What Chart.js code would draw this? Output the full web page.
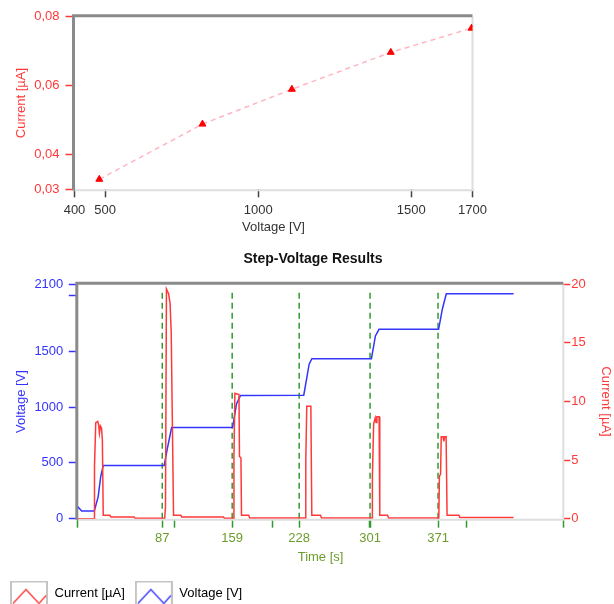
<!DOCTYPE html>
<html>
<head>
<meta charset="utf-8">
<script src="https://cdn.jsdelivr.net/npm/chart.js@4.4.1/dist/chart.umd.min.js"></script>
<style>
  html, body { margin: 0; padding: 0; background: #fff; overflow: hidden; }
  #top-box { position: absolute; left: 0; top: 0; width: 614px; height: 240px; }
  #bottom-box { position: absolute; left: 0; top: 240px; width: 614px; height: 364px; overflow: hidden; }
</style>
</head>
<body>
<div id="top-box"><canvas id="chart-iv" width="614" height="240"></canvas></div>
<div id="bottom-box"><canvas id="chart-steps" width="626" height="370"></canvas></div>
<script>
// I-V curve, one point per voltage step
const ivVoltage = [481, 818, 1110, 1433, 1697];
const ivCurrent = [0.0329, 0.0489, 0.0590, 0.0697, 0.0767];
const ivXTicks = [400, 500, 1000, 1500, 1700];
const ivYTicks = [0.03, 0.04, 0.06, 0.08];

// step voltage record
const voltageTime = [0, 4, 17, 21, 23.6, 26.2, 89, 92, 96.6, 159.4, 163.5, 167.6, 232.7, 236.1, 238.2, 241, 302.4, 306.5, 310.2, 371.6, 375.4, 379.5, 448.8];
const voltageValue = [108, 68, 70, 198, 378, 477, 477, 618, 816, 818, 1031, 1104, 1106, 1276, 1382, 1433, 1433, 1637, 1697, 1697, 1877, 2015, 2015];

const currentTime = [0, 17, 17.2, 18.5, 20.5, 21.5, 22.3, 23.3, 24.5, 25.3, 26.2, 33, 34, 58, 59,
  89.5, 90.3, 91.3, 93.5, 95, 96.2, 97.3, 98.6, 106, 107, 150, 151,
  160.2, 160.8, 161.8, 166, 166.5, 168, 168.6, 176, 177,
  234.2, 234.8, 235.8, 240, 241, 250, 251,
  303, 303.4, 304.7, 306.3, 307.2, 308, 310.3, 311, 319, 320,
  371.8, 372.4, 373.6, 374.3, 376.2, 377, 377.8, 379.3, 380.3, 392.5, 393.5, 448.8];
const currentValue = [0, 0, 4.5, 8.2, 8.3, 8.0, 7.3, 7.9, 7.7, 6.7, 0.3, 0.3, 0.15, 0.15, 0.03,
  0.03, 1.0, 19.6, 19.2, 18.4, 16.0, 8.7, 0.3, 0.3, 0.15, 0.15, 0.03,
  0.03, 5.2, 10.7, 10.6, 5.3, 5.2, 0.3, 0.3, 0.05,
  0.05, 4.9, 9.6, 9.6, 0.3, 0.3, 0.05,
  0.05, 3.6, 8.1, 8.6, 8.2, 8.7, 8.7, 0.3, 0.3, 0.05,
  0.05, 3.6, 3.8, 7.0, 7.0, 6.6, 7.0, 7.0, 0.3, 0.3, 0.1, 0.1];

const stepTimes = [87, 159, 228, 301, 371];
const timeTicks = [0, 87, 100, 159, 200, 228, 300, 301, 371, 400, 500];
const voltageTicks = [0, 500, 1000, 1500, 2000, 2100];
const currentTicks = [0, 5, 10, 15, 20];

const RED = '#ff3838';
const BLUE = '#3434ff';
const GREEN = '#6c9c2c';
const DASH_GREEN = '#2f9a2f';

Chart.defaults.font.family = '"Liberation Sans", Arial, sans-serif';
Chart.defaults.font.size = 13;
Chart.defaults.animation = false;

// plot frame: dark top/left, light bottom/right
const frame = {
  id: 'frame',
  beforeDatasetsDraw(chart) {
    const a = chart.chartArea;
    const ctx = chart.ctx;
    ctx.save();
    ctx.lineWidth = 2;
    ctx.strokeStyle = '#dedede';
    ctx.beginPath();
    ctx.moveTo(a.left, a.bottom + 1);
    ctx.lineTo(a.right, a.bottom + 1);
    ctx.lineTo(a.right, a.top);
    ctx.stroke();
    ctx.lineWidth = 3;
    ctx.strokeStyle = '#8a8a8a';
    ctx.beginPath();
    ctx.moveTo(a.left - 1, a.bottom + 1);
    ctx.lineTo(a.left - 1, a.top - 1);
    ctx.lineTo(a.right, a.top - 1);
    ctx.stroke();
    ctx.restore();
  }
};

function fixTicks(list) {
  return function (scale) {
    scale.ticks = list.map(v => ({ value: v }));
  };
}

function legendIcon(color) {
  const c = document.createElement('canvas');
  c.width = 38;
  c.height = 26;
  const g = c.getContext('2d');
  g.strokeStyle = '#c4c4c4';
  g.lineWidth = 2;
  g.beginPath();
  g.moveTo(1, 26);
  g.lineTo(1, 1);
  g.lineTo(37, 1);
  g.lineTo(37, 26);
  g.stroke();
  g.strokeStyle = color;
  g.lineWidth = 1.3;
  g.beginPath();
  g.moveTo(3, 23);
  g.lineTo(16, 9);
  g.lineTo(29, 23);
  g.lineTo(36, 15);
  g.stroke();
  return c;
}

window.addEventListener('load', () => {
  drawIV();
  drawSteps();
});

function drawIV() {
  let points = [];
  for (let i = 0; i < ivVoltage.length; i++) {
    points.push({ x: ivVoltage[i], y: ivCurrent[i] });
  }

  new Chart('chart-iv', {
    type: 'line',
    data: {
      datasets: [{
        label: 'Current',
        data: points,
        borderColor: '#ffb6c2',
        borderWidth: 1.5,
        borderDash: [5, 4],
        pointStyle: 'triangle',
        pointRadius: 4,
        pointBackgroundColor: '#ff0000',
        pointBorderColor: '#ff0000',
        pointBorderWidth: 1
      }]
    },
    options: {
      responsive: false,
      layout: { padding: { top: 16.8, right: 141.5, left: 0, bottom: 0 } },
      plugins: { legend: { display: false }, tooltip: { enabled: false } },
      scales: {
        x: {
          type: 'linear',
          min: 400,
          max: 1700,
          afterBuildTicks: fixTicks(ivXTicks),
          afterFit: s => { s.height = 50.7; },
          border: { display: false },
          grid: { drawOnChartArea: false, tickLength: 8, tickWidth: 1.5, color: '#444' },
          ticks: { color: '#333', padding: 5, autoSkip: false, maxRotation: 0, callback: v => String(v) },
          title: { display: true, text: 'Voltage [V]', color: '#333', padding: { top: 0, bottom: 5 } }
        },
        y: {
          min: 0.03,
          max: 0.08,
          afterBuildTicks: fixTicks(ivYTicks),
          afterFit: s => { s.width = 74.5; },
          border: { display: false },
          grid: { drawOnChartArea: false, tickLength: 9, tickWidth: 1.5, color: RED },
          ticks: {
            color: RED,
            padding: 6,
            callback: v => v.toFixed(2).replace('.', ',')
          },
          title: { display: true, text: 'Current [µA]', color: RED, padding: { top: 14, bottom: 0 } }
        }
      }
    },
    plugins: [frame]
  });
}

function drawSteps() {
  let voltage = [];
  for (let i = 0; i < voltageTime.length; i++) {
    voltage.push({ x: voltageTime[i], y: voltageValue[i] });
  }
  let current = [];
  for (let i = 0; i < currentTime.length; i++) {
    current.push({ x: currentTime[i], y: currentValue[i] });
  }

  let datasets = [
    {
      label: 'Current [µA]',
      data: current,
      yAxisID: 'yI',
      borderColor: RED,
      borderWidth: 1.5,
      pointRadius: 0,
      tension: 0
    },
    {
      label: 'Voltage [V]',
      data: voltage,
      yAxisID: 'yV',
      borderColor: BLUE,
      borderWidth: 1.5,
      pointRadius: 0,
      tension: 0
    }
  ];
  // dashed markers at each step change
  stepTimes.forEach(t => {
    datasets.push({
      label: 'step',
      data: [{ x: t, y: 0 }, { x: t, y: 2060 }],
      yAxisID: 'yV',
      borderColor: DASH_GREEN,
      borderWidth: 1.5,
      borderDash: [6, 4],
      pointRadius: 0
    });
  });

  const icons = [legendIcon(RED), legendIcon(BLUE)];

  new Chart('chart-steps', {
    type: 'line',
    data: { datasets: datasets },
    options: {
      responsive: false,
      layout: { padding: 0 },
      plugins: {
        tooltip: { enabled: false },
        title: {
          display: true,
          text: 'Step-Voltage Results',
          color: '#111',
          font: { size: 14, weight: 'bold' },
          padding: { top: 10.9, bottom: 16.6 }
        },
        legend: {
          position: 'bottom',
          align: 'start',
          labels: {
            usePointStyle: true,
            pointStyleWidth: 38,
            padding: 10,
            color: '#333',
            font: { size: 13 },
            generateLabels: chart => [0, 1].map(i => ({
              text: chart.data.datasets[i].label,
              pointStyle: icons[i],
              fillStyle: 'transparent',
              strokeStyle: 'transparent',
              lineWidth: 0,
              hidden: false,
              datasetIndex: i
            }))
          }
        }
      },
      scales: {
        x: {
          type: 'linear',
          min: 0,
          max: 500,
          afterBuildTicks: fixTicks(timeTicks),
          afterFit: s => { s.height = 58.3; },
          border: { display: false },
          grid: { drawOnChartArea: false, tickLength: 9, tickWidth: 1.5, color: DASH_GREEN },
          ticks: {
            color: GREEN,
            padding: 3.2,
            autoSkip: false,
            maxRotation: 0,
            callback: v => stepTimes.includes(v) ? String(v) : ''
          },
          title: { display: true, text: 'Time [s]', color: GREEN, font: { size: 13 }, padding: { top: 0, bottom: 11.9 } }
        },
        yV: {
          position: 'left',
          min: 0,
          max: 2100,
          afterBuildTicks: fixTicks(voltageTicks),
          afterFit: s => { s.width = 77.8; },
          border: { display: false },
          grid: { drawOnChartArea: false, tickLength: 9, tickWidth: 1.5, color: BLUE },
          ticks: { color: BLUE, padding: 5.5, callback: v => v === 2000 ? '' : String(v) },
          title: { display: true, text: 'Voltage [V]', color: BLUE, padding: { top: 13.9, bottom: 0 } }
        },
        yI: {
          position: 'right',
          min: 0,
          max: 20,
          afterBuildTicks: fixTicks(currentTicks),
          afterFit: s => { s.width = 62.7; },
          border: { display: false },
          grid: { drawOnChartArea: false, tickLength: 7, tickWidth: 1.5, color: RED },
          ticks: { color: RED, padding: 1 },
          title: { display: true, text: 'Current [µA]', color: RED, padding: { top: 12.5, bottom: 0 } }
        }
      }
    },
    plugins: [frame]
  });
}
</script>
</body>
</html>
